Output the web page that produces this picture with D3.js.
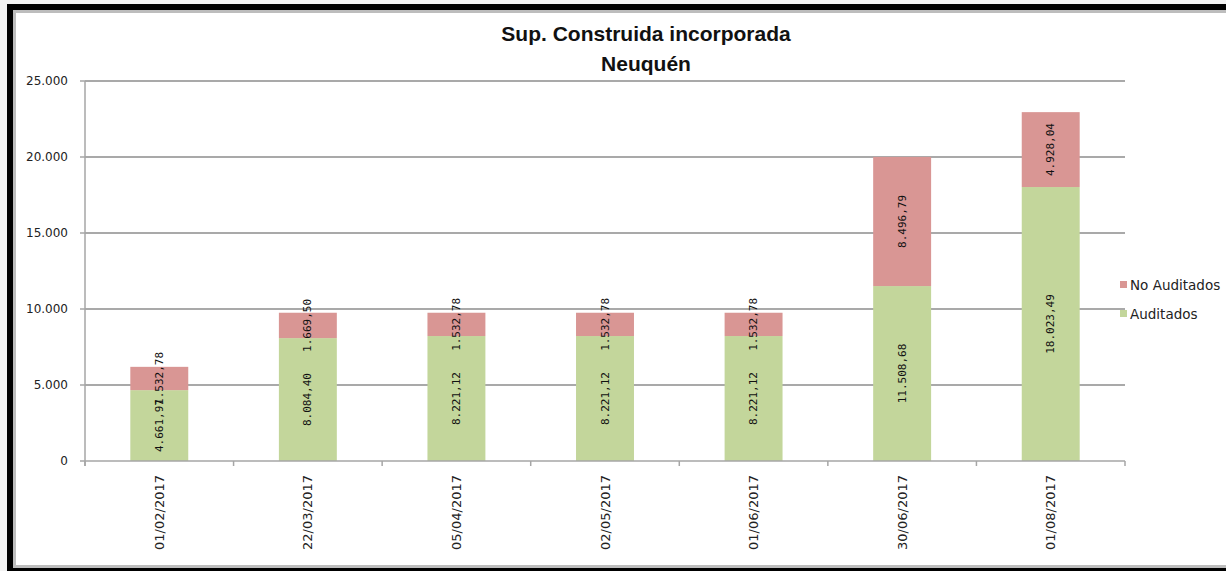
<!DOCTYPE html>
<html lang="es">
<head>
<meta charset="UTF-8">
<title>Sup. Construida incorporada - Neuquén</title>
<script src="https://d3js.org/d3.v7.min.js"></script>
<style>
    body { margin: 0; background: #f2f2f2; }
    svg { display: block; }
    .grid line { stroke: #8c8c8c; stroke-width: 1.5px; }
    .axis path, .axis line { stroke: #a6a6a6; stroke-width: 1.5px; }
    .ylab { font-family: "DejaVu Sans", sans-serif; font-size: 12px; fill: #222; }
    .xlab { font-family: "DejaVu Sans", sans-serif; font-size: 13px; fill: #222; }
    .val { font-family: "DejaVu Sans Mono", monospace; font-size: 11px; fill: #111; }
    .title { font-family: "Liberation Sans", Arial, sans-serif; font-weight: bold; font-size: 21px; fill: #111; }
    .legend { font-family: "DejaVu Sans", sans-serif; font-size: 13.5px; fill: #222; }
</style>
</head>
<body>
<svg id="chart" width="1226" height="571"></svg>
<script>
// data
const fechas = ["01/02/2017", "22/03/2017", "05/04/2017", "02/05/2017", "01/06/2017", "30/06/2017", "01/08/2017"];
const auditados = [4661.97, 8084.40, 8221.12, 8221.12, 8221.12, 11508.68, 18023.49];
const noAuditados = [1532.78, 1669.50, 1532.78, 1532.78, 1532.78, 8496.79, 4928.04];
const yTicks = [0, 5000, 10000, 15000, 20000, 25000];

const svg = d3.select("#chart");

// frame
svg.append("rect").attr("x", 7).attr("y", 4).attr("width", 1230).attr("height", 567).attr("fill", "#000");
svg.append("rect").attr("x", 13).attr("y", 10).attr("width", 1220).attr("height", 558).attr("fill", "#bdbdbd");
svg.append("rect").attr("x", 16).attr("y", 13).attr("width", 1215).attr("height", 552).attr("fill", "#fff");

const pLeft = 85, pRight = 1125, pTop = 81, pBottom = 461;

const x = d3.scaleBand().domain(fechas).range([pLeft, pRight]).paddingInner(0.61).paddingOuter(0.305);
const y = d3.scaleLinear().domain([0, 25000]).range([pBottom, pTop]);

// number format like 8.084,40
const es = d3.formatLocale({ decimal: ",", thousands: ".", grouping: [3], currency: ["$", ""] });
const fmtVal = es.format(",.2f");
const fmtTick = es.format(",.0f");

// gridlines
svg.append("g").attr("class", "grid")
    .selectAll("line").data(yTicks.filter(d => d > 0)).join("line")
    .attr("x1", pLeft).attr("x2", pRight)
    .attr("y1", d => y(d)).attr("y2", d => y(d));

// stacked data
const rows = fechas.map((f, i) => ({ fecha: f, Auditados: auditados[i], NoAuditados: noAuditados[i] }));
const stack = d3.stack().keys(["Auditados", "NoAuditados"])(rows);
const color = { Auditados: "#c3d69b", NoAuditados: "#d99694" };

const layers = svg.append("g").selectAll("g").data(stack).join("g")
    .attr("fill", d => color[d.key]);

layers.selectAll("rect").data(d => d).join("rect")
    .attr("x", d => x(d.data.fecha))
    .attr("width", x.bandwidth())
    .attr("y", d => y(d[1]))
    .attr("height", d => y(d[0]) - y(d[1]));

// value labels (rotated, centered in segment)
stack.forEach(layer => {
    svg.append("g").selectAll("text").data(layer).join("text")
        .attr("class", "val")
        .attr("text-anchor", "middle")
        .attr("dominant-baseline", "central")
        .attr("transform", d => `translate(${x(d.data.fecha) + x.bandwidth() / 2},${(y(d[0]) + y(d[1])) / 2}) rotate(-90)`)
        .text(d => fmtVal(d[1] - d[0]));
});

// y axis
const yAxis = svg.append("g").attr("class", "axis");
yAxis.append("line").attr("x1", pLeft).attr("x2", pLeft).attr("y1", pTop).attr("y2", pBottom + 5);
yAxis.selectAll("line.tk").data(yTicks).join("line").attr("class", "tk")
    .attr("x1", pLeft - 5).attr("x2", pLeft).attr("y1", d => y(d)).attr("y2", d => y(d));
yAxis.selectAll("text").data(yTicks).join("text")
    .attr("class", "ylab")
    .attr("x", 68).attr("y", d => y(d))
    .attr("text-anchor", "end").attr("dominant-baseline", "central")
    .text(d => fmtTick(d));

// x axis
const xAxis = svg.append("g").attr("class", "axis");
xAxis.append("line").attr("x1", pLeft).attr("x2", pRight).attr("y1", pBottom).attr("y2", pBottom);
const step = x.step();
xAxis.selectAll("line.tk").data(d3.range(fechas.length + 1)).join("line").attr("class", "tk")
    .attr("x1", i => pLeft + i * step).attr("x2", i => pLeft + i * step)
    .attr("y1", pBottom).attr("y2", pBottom + 5);
xAxis.selectAll("text").data(fechas).join("text")
    .attr("class", "xlab")
    .attr("text-anchor", "end").attr("dominant-baseline", "central")
    .attr("transform", d => `translate(${x(d) + x.bandwidth() / 2},${pBottom + 14}) rotate(-90)`)
    .text(d => d);

// title
svg.append("text").attr("class", "title").attr("x", 646).attr("y", 41).attr("text-anchor", "middle").text("Sup. Construida incorporada");
svg.append("text").attr("class", "title").attr("x", 646).attr("y", 71).attr("text-anchor", "middle").text("Neuquén");

// legend
const legendItems = [["No Auditados", color.NoAuditados], ["Auditados", color.Auditados]];
const lg = svg.append("g").selectAll("g").data(legendItems).join("g")
    .attr("transform", (d, i) => `translate(1120,${281 + i * 29})`);
lg.append("rect").attr("width", 7).attr("height", 7).attr("fill", d => d[1]);
lg.append("text").attr("class", "legend").attr("x", 10).attr("y", 4).attr("dominant-baseline", "central").text(d => d[0]);
</script>
</body>
</html>
